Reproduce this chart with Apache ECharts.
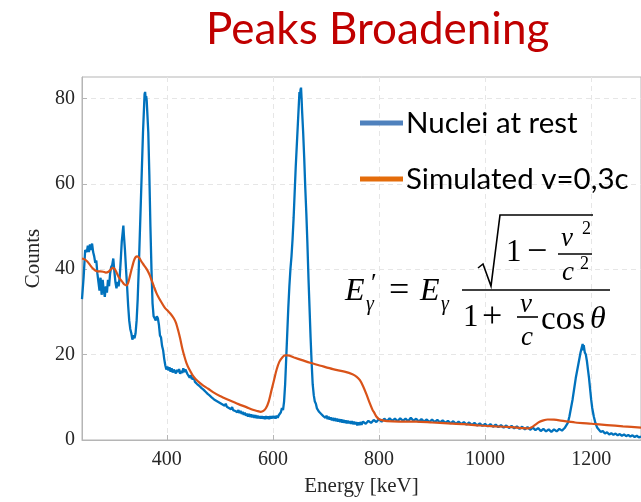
<!DOCTYPE html>
<html>
<head>
<meta charset="utf-8">
<script src="https://cdn.jsdelivr.net/npm/echarts@6/dist/echarts.min.js"></script>
<style>html,body{margin:0;padding:0;background:#fff}#c{width:641px;height:502px}</style>
</head>
<body>
<div id="c"></div>
<script>
// ---- data ----
var restEnergy = [240,243,246,249,251,253,255,257,259,261,263,265,267,269,271,273,275,277,279,281,283,285,287,289,291,293,295,297,299,301,303,305,307,309,311,313,315,317,318,319,321,323,325,327,329,331,333,335,337,339,341,343,345,347,349,351,353,355,357,358,359,360,361,362,363,365,367,369,371,373,375,377,379,381,383,385,387,389,391,393,395,397,399,401,403,405,407,409,411,413,415,417,419,421,423,425,427,429,431,433,435,437,439,441,443,445,447,449,451,453,455,457,459,461,463,465,467,469,471,473,475,477,479,481,483,485,487,489,491,493,495,497,499,501,503,505,507,509,511,513,515,517,519,521,523,525,527,529,531,533,535,537,539,541,543,545,547,549,551,553,555,557,559,561,563,565,567,569,571,573,575,577,579,581,583,585,587,589,591,593,595,597,599,601,603,605,607,609,611,613,615,617,619,621,623,625,627,629,631,633,635,637,639,641,643,645,647,649,650,651,652,653,654,655,657,659,661,663,665,667,669,671,673,675,677,679,681,683,685,687,689,691,693,695,697,699,701,703,705,707,709,711,713,715,717,719,721,723,725,727,729,731,733,735,737,739,741,743,745,747,749,751,753,755,757,759,761,763,765,767,770,775,780,785,790,795,800,805,810,815,820,825,830,835,840,845,850,855,860,865,870,875,880,885,890,895,900,905,910,915,920,925,930,935,940,945,950,955,960,965,970,975,980,985,990,995,1000,1005,1010,1015,1020,1025,1030,1035,1040,1045,1050,1055,1060,1065,1070,1075,1080,1085,1090,1095,1100,1105,1110,1115,1120,1125,1130,1135,1140,1145,1150,1153,1156,1159,1162,1165,1168,1171,1174,1177,1180,1182,1184,1185,1186,1188,1190,1192,1194,1196,1198,1200,1202,1205,1208,1211,1214,1218,1222,1226,1230,1234,1238,1242,1246,1250,1254,1258,1262,1266,1270,1274,1278,1282,1286,1290,1294];
var restCounts = [33,38,44.5,44,45.5,44,45.8,44.5,46,44,43,41.5,42,39,37,35,38,34,37.5,35,33.5,36,34.5,37.5,36,39,40.5,41,42.5,39.5,37,35.5,37,36,38,42,46.5,49,50.2,48,44.5,40,36,31.5,28,26,25,23.5,24.5,23.8,25,28,33,40,48,56,64,72,78,81,81.5,80,80.5,79.5,77,72,62,50,40,32,29,28.5,28,29,28.5,27,24.5,24,22,21,19,17.5,16.5,17.2,16.3,17,16,16.8,15.8,16.5,16.2,15.6,16.4,15.9,16.6,15.5,16.2,15.7,16.8,15.9,16.5,16.9,15.4,15.1,14.6,15.2,14.3,14,14.6,13.6,13.9,13.1,13.5,12.7,12.9,12.2,12.6,11.8,12.1,11.3,11.6,10.8,11.2,10.4,10.7,9.9,10.2,9.5,9.9,9.2,9.6,8.9,9.3,8.6,9,8.3,8.7,8,8.5,7.8,8.2,7.5,7.9,7.2,7.7,7,7.4,6.8,7.2,6.5,7,6.3,6.8,6.1,6.6,5.9,6.4,5.7,6.2,5.5,6.1,5.4,6,5.3,5.9,5.2,5.8,5.1,5.7,5.1,5.6,5,5.6,5,5.5,4.9,5.6,5,5.5,4.9,5.6,5,5.6,5.1,5.6,5,5.7,5.2,5.8,6,6.5,7.5,7,9,13,19,25,31,36,40,43,47,52,58,64,69,74,79,81.5,80,82,82.5,80,77,72,66,59,53,46,38,31,24,18,13,10.5,9,8.5,7.4,7.8,6.6,7,6.1,6.4,5.6,6,5.2,5.7,4.9,5.5,4.8,5.3,4.6,5.2,4.5,5.1,4.4,5,4.3,4.9,4.2,4.8,4.1,4.7,4,4.6,3.9,4.5,3.9,4.4,3.8,4.4,3.7,4.3,3.7,4.2,3.4,4.1,3.5,4.2,3.6,4.3,3.8,4.5,4,4.7,4.2,4.9,4.3,5,4.4,5.1,4.5,5,4.4,5.1,4.5,5,4.4,5.2,4.5,5,4.3,4.9,4.3,4.8,4.2,4.8,4.2,4.7,4.1,4.6,4,4.5,3.9,4.4,3.8,4.3,3.7,4.2,3.6,4.1,3.5,4,3.4,3.9,3.3,3.8,3.2,3.7,3.1,3.6,3,3.5,2.9,3.4,2.8,3.3,2.7,3.2,2.6,3.1,2.5,3,2.4,2.9,2.3,2.8,2.1,2.6,2,2.5,1.9,2.5,2,2.6,2.2,2.8,3.2,4,5.5,7.5,9.5,12,14.5,16.5,18.5,20.5,21.5,22.5,21,22.2,20.5,20,18.5,16.5,14.5,12,9.5,7.5,5.5,4,3,2.5,1.9,2.1,1.5,1.8,1.3,1.6,1.2,1.5,1.1,1.4,1,1.3,0.9,1.2,0.8,1.1,0.7,1,0.6,0.8];

var simEnergy = [240,245,250,255,260,265,270,275,280,285,290,295,298,302,306,310,315,320,324,327,330,334,338,341,344,348,352,357,362,367,371,376,380,384,390,396,402,408,413,417,421,425,429,433,437,442,449,458,468,478,487,500,518,535,550,562,570,577,582,587,592,597,602,607,612,618,623,628,640,655,670,690,713,735,750,758,764,770,776,782,788,791,795,800,807,815,838,870,900,930,960,990,1020,1050,1070,1080,1088,1095,1102,1110,1118,1130,1150,1170,1200,1230,1260,1294];
var simCounts = [42.5,42.3,41.8,41,40.2,39.7,39.5,39.5,39.4,39.2,39.4,40,40.3,40,39,38,37.2,36.4,36.2,36.8,38.2,40.2,42,42.8,43,42.6,41.8,40.9,40,38.8,37.5,35.8,34.5,33.5,32.2,31,30.2,29.4,28.5,27.5,25.8,23.8,21.5,19.6,18,16.6,15.1,13.8,12.8,12,11.2,10.3,9.3,8.4,7.7,7.1,6.8,6.6,6.8,7.5,9,11.5,14,16.5,18.3,19.4,19.8,19.8,19.3,18.7,18.1,17.4,16.6,16,15.4,14.8,14,12.6,10.8,8.8,7,6.4,5.5,4.9,4.6,4.4,4.3,4.3,4.1,3.9,3.7,3.4,3.2,3,2.8,2.7,3,3.6,4.2,4.6,4.8,4.75,4.4,4.1,3.8,3.5,3.2,2.9];

var xTicks = [400,600,800,1000,1200];
var yTicks = [0,20,40,60,80];
var seriesNames = ['Nuclei at rest','Simulated v=0,3c'];
var titleText = 'Peaks Broadening';

function pairs(xs, ys){ var o=[]; for(var i=0;i<xs.length;i++) o.push([xs[i], ys[i]]); return o; }

var chart = echarts.init(document.getElementById('c'), null, {renderer:'canvas'});

function mt(text, x, y, size, italic){
  return { type:'text', z:100, style:{ text:text, x:x, y:y, fill:'#000',
    font:(italic?'italic ':'') + size + 'px "Liberation Serif", serif',
    align:'left', verticalAlign:'middle' } };
}
function ln(x1,y1,x2,y2){
  return { type:'line', z:100, shape:{x1:x1,y1:y1,x2:x2,y2:y2}, style:{stroke:'#000', lineWidth:1.6} };
}

var axisLabelStyle = { fontFamily:'Liberation Serif', fontSize:20, color:'#262626' };
function plain(v){ return String(v); }

chart.setOption({
  animation:false,
  backgroundColor:'#fff',
  title:{ text:titleText, left:201, top:3,
    textStyle:{ fontFamily:'Lato', fontSize:44, fontWeight:'normal', color:'#C00000' } },
  legend:{ orient:'vertical', left:355, top:103, itemGap:26, itemWidth:43, itemHeight:5, icon:'rect',
    textStyle:{ fontFamily:'Lato', fontSize:29.5, color:'#000', padding:[0,0,0,-2] },
    data:[ {name:seriesNames[0], itemStyle:{color:'#4F81BD'}}, {name:seriesNames[1], itemStyle:{color:'#E46C0A'}} ] },
  grid:{ left:82, top:77, right:-1, bottom:60, show:true, borderColor:'#b5b5b5', borderWidth:1 },
  xAxis:{ type:'value', min:240, max:1294,
    name:'Energy [keV]', nameLocation:'middle', nameGap:36,
    nameTextStyle:{ fontFamily:'Liberation Serif', fontSize:21, color:'#262626' },
    axisLine:{ lineStyle:{ color:'#b5b5b5' } },
    axisTick:{ inside:true, length:5, lineStyle:{ color:'#b5b5b5' }, customValues:xTicks },
    axisLabel:Object.assign({ margin:10, customValues:xTicks, formatter:plain }, axisLabelStyle),
    splitLine:{ show:true, lineStyle:{ color:'#e6e6e6', type:[5,4] } } },
  yAxis:{ type:'value', min:0, max:85,
    name:'Counts', nameLocation:'middle', nameGap:33, nameRotate:90,
    nameTextStyle:{ fontFamily:'Liberation Serif', fontSize:21, color:'#262626' },
    axisLine:{ show:true, lineStyle:{ color:'#b5b5b5' } },
    axisTick:{ show:true, inside:true, length:5, lineStyle:{ color:'#b5b5b5' }, customValues:yTicks },
    axisLabel:Object.assign({ margin:7, customValues:yTicks, formatter:plain }, axisLabelStyle),
    splitLine:{ show:true, lineStyle:{ color:'#e6e6e6', type:[5,4] } } },
  series:[
    { name:seriesNames[0], type:'line', data:pairs(restEnergy, restCounts), showSymbol:false, symbol:'none',
      lineStyle:{ color:'#0072BD', width:2.3 }, itemStyle:{color:'#0072BD'}, z:2 },
    { name:seriesNames[1], type:'line', data:pairs(simEnergy, simCounts), showSymbol:false, symbol:'none', smooth:0.25,
      lineStyle:{ color:'#D95319', width:2.2 }, itemStyle:{color:'#D95319'}, z:3 }
  ],
  graphic:[
    mt('E', 345, 292, 32, true),
    mt('\u2032', 371, 284, 26, false),
    mt('\u03b3', 366, 305, 20, true),
    mt('=', 389, 292, 36, false),
    mt('E', 420, 292, 32, true),
    mt('\u03b3', 441, 305, 20, true),
    ln(462, 290, 610, 290),
    { type:'polyline', z:100, shape:{ points:[[478,268],[483,264],[491,286],[500,215],[593,215]] }, style:{ stroke:'#000', lineWidth:1.6, fill:null } },
    mt('1', 506, 253, 31, false),
    mt('\u2212', 527, 253, 36, false),
    ln(558, 254, 592, 254),
    mt('v', 561, 239, 27, true),
    mt('2', 582, 229, 18, false),
    mt('c', 562, 273, 27, true),
    mt('2', 580, 264, 18, false),
    mt('1', 463, 318, 31, false),
    mt('+', 482, 318, 36, false),
    ln(517, 317, 538, 317),
    mt('v', 520, 305, 27, true),
    mt('c', 521, 338, 27, true),
    mt('cos', 541, 320, 33, false),
    mt('\u03b8', 590, 320, 32, true)
  ]
});
</script>
</body>
</html>
